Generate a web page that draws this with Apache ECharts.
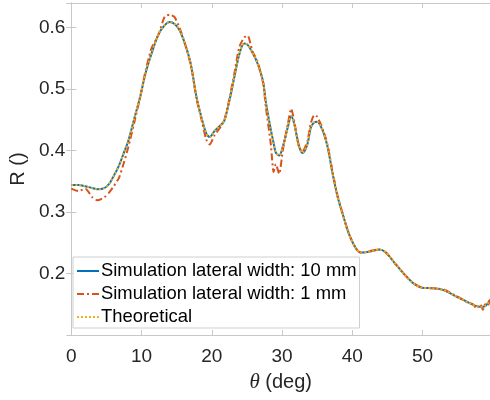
<!DOCTYPE html>
<html>
<head>
<meta charset="utf-8">
<script src="https://cdn.jsdelivr.net/npm/echarts@6/dist/echarts.min.js"></script>
<style>html,body{margin:0;padding:0;background:#fff;}#c{width:490px;height:400px;}</style>
</head>
<body>
<div id="c"></div>
<script>
var theta = [0, 1, 2, 3, 3.7, 4.7, 5.4, 6.1, 6.8, 7.5, 8.1, 9.1, 9.8, 10.5, 11.4, 12.4, 13.3, 14, 14.7, 15.4, 16.2, 16.9, 17.3, 17.8, 18.5, 19.2, 19.7, 20.4, 21.4, 21.8, 22.5, 23.2, 23.9, 24.6, 25.1, 25.8, 26.5, 27.3, 27.7, 28.4, 28.8, 29.1, 29.6, 30.1, 30.8, 31.3, 31.7, 32.4, 32.9, 33.6, 34.1, 34.6, 35, 35.8, 36.5, 37.2, 37.9, 38.6, 39.5, 40.5, 41.2, 42.1, 43, 43.8, 44.7, 45.9, 47.3, 48.7, 49.9, 51.6, 53, 54.4, 55.8, 56.5, 57.2, 57.7, 58.2, 58.6, 58.9, 59.3, 59.6];

var sim10 = [0.344, 0.344, 0.342, 0.339, 0.337, 0.339, 0.346, 0.360, 0.376, 0.397, 0.415, 0.458, 0.487, 0.523, 0.557, 0.589, 0.604, 0.609, 0.606, 0.596, 0.573, 0.546, 0.522, 0.488, 0.455, 0.428, 0.422, 0.432, 0.443, 0.449, 0.481, 0.519, 0.556, 0.574, 0.572, 0.559, 0.542, 0.512, 0.478, 0.434, 0.412, 0.397, 0.392, 0.406, 0.437, 0.456, 0.445, 0.408, 0.396, 0.410, 0.438, 0.446, 0.447, 0.432, 0.405, 0.362, 0.325, 0.298, 0.265, 0.241, 0.234, 0.235, 0.237, 0.239, 0.235, 0.219, 0.200, 0.184, 0.177, 0.176, 0.173, 0.165, 0.157, 0.153, 0.149, 0.147, 0.146, 0.146, 0.147, 0.152, 0.157];

var sim1 = [0.338, 0.334, 0.338, 0.324, 0.319, 0.324, 0.332, 0.343, 0.356, 0.381, 0.405, 0.452, 0.487, 0.526, 0.566, 0.588, 0.618, 0.621, 0.617, 0.600, 0.573, 0.544, 0.522, 0.485, 0.452, 0.418, 0.410, 0.425, 0.441, 0.450, 0.484, 0.525, 0.568, 0.584, 0.587, 0.561, 0.545, 0.510, 0.470, 0.410, 0.365, 0.378, 0.362, 0.400, 0.442, 0.468, 0.450, 0.406, 0.398, 0.415, 0.445, 0.458, 0.455, 0.435, 0.408, 0.365, 0.327, 0.298, 0.265, 0.241, 0.234, 0.235, 0.238, 0.239, 0.235, 0.219, 0.200, 0.184, 0.177, 0.176, 0.174, 0.166, 0.157, 0.152, 0.150, 0.143, 0.150, 0.141, 0.150, 0.148, 0.158];

var theory = [0.344, 0.344, 0.342, 0.339, 0.337, 0.339, 0.346, 0.360, 0.376, 0.397, 0.415, 0.458, 0.487, 0.523, 0.557, 0.589, 0.604, 0.609, 0.606, 0.596, 0.573, 0.546, 0.522, 0.488, 0.455, 0.428, 0.422, 0.432, 0.443, 0.449, 0.481, 0.519, 0.556, 0.574, 0.572, 0.559, 0.542, 0.512, 0.478, 0.434, 0.412, 0.397, 0.392, 0.406, 0.437, 0.456, 0.445, 0.408, 0.396, 0.410, 0.438, 0.446, 0.447, 0.432, 0.405, 0.362, 0.325, 0.298, 0.265, 0.241, 0.234, 0.235, 0.237, 0.239, 0.235, 0.219, 0.200, 0.184, 0.177, 0.176, 0.173, 0.165, 0.157, 0.153, 0.149, 0.147, 0.146, 0.146, 0.147, 0.152, 0.157];

var seriesNames = ['Simulation lateral width: 10 mm', 'Simulation lateral width: 1 mm', 'Theoretical'];
var xTickLabels = ['0', '10', '20', '30', '40', '50'];
var yTickLabels = ['0.2', '0.3', '0.4', '0.5', '0.6'];

function pairs(xs, ys) { return xs.map(function (x, i) { return [x, ys[i]]; }); }

var FONT = '"Liberation Sans", Arial, Helvetica, sans-serif';
var TXT = '#262626';
var AX = '#c8c8c8';

var chart = echarts.init(document.getElementById('c'), null, {renderer: 'canvas'});

function xFmt(v) {
  var s = String(Math.round(v));
  return (Math.abs(v - Math.round(v / 10) * 10) < 1e-6 && xTickLabels.indexOf(s) >= 0) ? s : '';
}
function yFmt(v) {
  var s = v.toFixed(1);
  return (Math.abs(v * 10 - Math.round(v * 10)) < 1e-6 && yTickLabels.indexOf(s) >= 0) ? s : '';
}

var baseX = {
  type: 'value', min: 0, max: 59.6, interval: 10,
  axisLine: {show: true, lineStyle: {color: AX, width: 1}},
  axisTick: {show: true, inside: true, length: 5, lineStyle: {color: AX}},
  splitLine: {show: false}
};
var baseY = {
  type: 'value', min: 0.1, max: 0.64, interval: 0.1,
  axisLine: {show: true, lineStyle: {color: AX, width: 1}},
  axisTick: {show: true, inside: true, length: 5, lineStyle: {color: AX}},
  splitLine: {show: false}
};

chart.setOption({
  animation: false,
  backgroundColor: '#ffffff',
  grid: {left: 69, right: 0, top: 3, bottom: 65, containLabel: false},
  xAxis: [
    Object.assign({}, baseX, {
      position: 'bottom',
      axisLabel: {show: true, formatter: xFmt, color: TXT, fontSize: 19, fontFamily: FONT, margin: 12, showMaxLabel: false},
      name: '{t|\u03B8} (deg)',
      nameLocation: 'middle', nameGap: 37,
      nameTextStyle: {color: TXT, fontSize: 20, fontFamily: FONT,
        rich: {t: {fontStyle: 'italic', fontFamily: '"Liberation Serif", "DejaVu Serif", serif', fontSize: 21, color: TXT}}}
    }),
    Object.assign({}, baseX, {position: 'top', axisLabel: {show: false}})
  ],
  yAxis: [
    Object.assign({}, baseY, {
      position: 'left',
      axisLabel: {show: true, formatter: yFmt, color: TXT, fontSize: 19, fontFamily: FONT, margin: 6, showMaxLabel: false},
      name: 'R ()',
      nameLocation: 'middle', nameGap: 37,
      nameTextStyle: {color: TXT, fontSize: 20, fontFamily: FONT}
    }),
    Object.assign({}, baseY, {position: 'right', axisLabel: {show: false}})
  ],
  legend: {
    show: true,
    orient: 'vertical',
    left: 73, top: 257,
    backgroundColor: '#ffffff',
    borderColor: '#cfcfcf', borderWidth: 1, borderRadius: 0,
    padding: [4, 3, 1, 3],
    itemGap: 3,
    itemWidth: 22, itemHeight: 14,
    itemStyle: {opacity: 0},
    textStyle: {color: '#000', fontSize: 18.4, fontFamily: FONT, lineHeight: 20, padding: [0, 0, 0, -3]},
    data: seriesNames.map(function (n) { return {name: n}; })
  },
  series: [
    {
      name: seriesNames[0], type: 'line', xAxisIndex: 0, yAxisIndex: 0,
      data: pairs(theta, sim10), symbol: 'none', smooth: 0.3,
      lineStyle: {color: '#0072BD', width: 2, type: 'solid'},
      itemStyle: {color: '#0072BD'}, z: 2
    },
    {
      name: seriesNames[1], type: 'line', xAxisIndex: 0, yAxisIndex: 0,
      data: pairs(theta, sim1), symbol: 'none', smooth: 0.2,
      lineStyle: {color: '#D95319', width: 2, type: [7, 3, 2, 3]},
      itemStyle: {color: '#D95319'}, z: 3
    },
    {
      name: seriesNames[2], type: 'line', xAxisIndex: 0, yAxisIndex: 0,
      data: pairs(theta, theory), symbol: 'none', smooth: 0.3,
      lineStyle: {color: '#EDB120', width: 2, type: [2, 2]},
      itemStyle: {color: '#EDB120'}, z: 4
    }
  ]
});
</script>
</body>
</html>
